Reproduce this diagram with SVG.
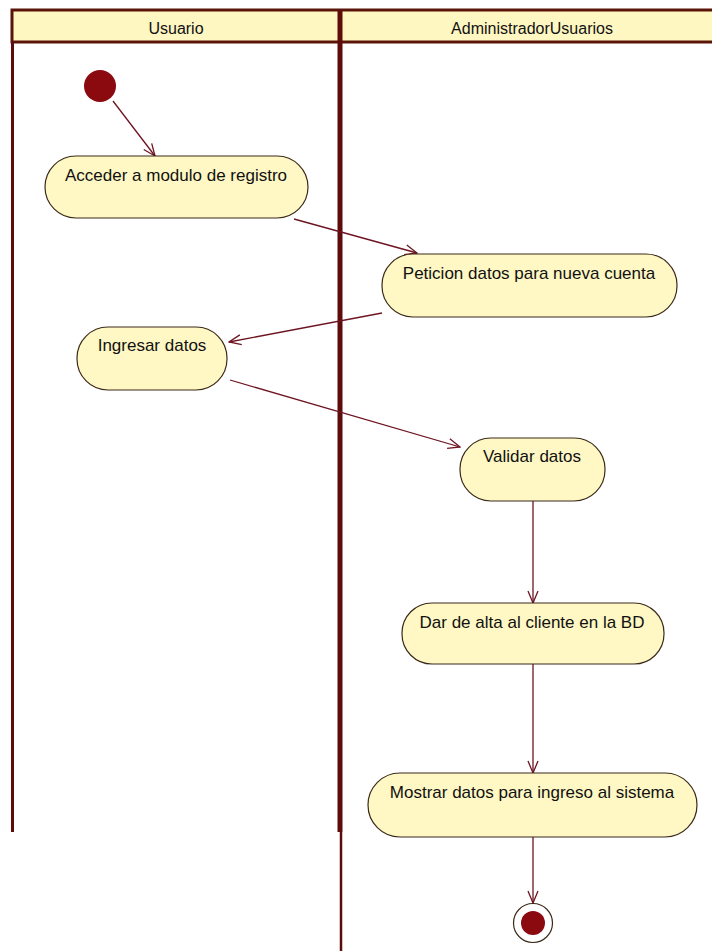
<svg xmlns="http://www.w3.org/2000/svg" width="712" height="951" viewBox="0 0 712 951">
<style>
.lane{fill:none;stroke:#5e0b0b;}
.hdr{fill:#fff7c2;stroke:#5a1508;stroke-width:3;}
.hdrtxt{font-family:"Liberation Sans",Arial,sans-serif;font-size:16px;fill:#111;text-anchor:middle;}
.act{fill:#fff8c4;stroke:#3a2a1a;stroke-width:1.2;}
.txt{font-family:"Liberation Sans",Arial,sans-serif;font-size:17px;fill:#111;text-anchor:middle;}
.edge{fill:none;stroke:#6e1420;stroke-width:1.3;marker-end:url(#arr);}
</style>
<defs>
<marker id="arr" viewBox="0 0 14 12" refX="13" refY="6" markerWidth="14" markerHeight="12" markerUnits="userSpaceOnUse" orient="auto">
<path d="M1,1 L13,6 L1,11" fill="none" stroke="#6e1420" stroke-width="1.3"/>
</marker>
</defs>
<rect width="712" height="951" fill="#ffffff"/>
<g id="swimlanes">
<rect class="hdr" x="12" y="10" width="710" height="32"/>
<line class="lane" x1="12.5" y1="42" x2="12.5" y2="832" stroke-width="3"/>
<line class="lane" x1="340" y1="10" x2="340" y2="832" stroke-width="5"/>
<line class="lane" x1="341" y1="832" x2="341" y2="951" stroke-width="2.5"/>
<text class="hdrtxt" x="176" y="34">Usuario</text>
<text class="hdrtxt" x="532" y="34">AdministradorUsuarios</text>
</g>
<g id="connectors">
<line class="edge" x1="113" y1="101" x2="155" y2="156"/>
<line class="edge" x1="294" y1="219" x2="417" y2="253"/>
<line class="edge" x1="382" y1="313" x2="229" y2="342"/>
<line class="edge" x1="230" y1="380" x2="460" y2="447"/>
<line class="edge" x1="533" y1="501" x2="533" y2="603"/>
<line class="edge" x1="533" y1="664" x2="533" y2="773"/>
<line class="edge" x1="533" y1="837" x2="533" y2="903"/>
</g>
<g id="start">
<circle cx="100" cy="86" r="16" fill="#8a0a10"/>
</g>
<g id="n1">
<rect class="act" x="45" y="156" width="263" height="62" rx="31"/>
<text class="txt" x="176" y="181">Acceder a modulo de registro</text>
</g>
<g id="n2">
<rect class="act" x="382" y="254" width="295" height="63" rx="31"/>
<text class="txt" x="529" y="279">Peticion datos para nueva cuenta</text>
</g>
<g id="n3">
<rect class="act" x="77" y="327" width="150" height="63" rx="31"/>
<text class="txt" x="152" y="351">Ingresar datos</text>
</g>
<g id="n4">
<rect class="act" x="460" y="438" width="145" height="63" rx="31"/>
<text class="txt" x="532" y="462">Validar datos</text>
</g>
<g id="n5">
<rect class="act" x="402" y="603" width="262" height="61" rx="30"/>
<text class="txt" x="532" y="628">Dar de alta al cliente en la BD</text>
</g>
<g id="n6">
<rect class="act" x="368" y="773" width="329" height="64" rx="32"/>
<text class="txt" x="532" y="798">Mostrar datos para ingreso al sistema</text>
</g>
<g id="end">
<circle cx="533" cy="923" r="19.5" fill="#ffffff" stroke="#3a2a1a" stroke-width="1.2"/>
<circle cx="533" cy="923" r="12" fill="#8a0a10"/>
</g>
</svg>
